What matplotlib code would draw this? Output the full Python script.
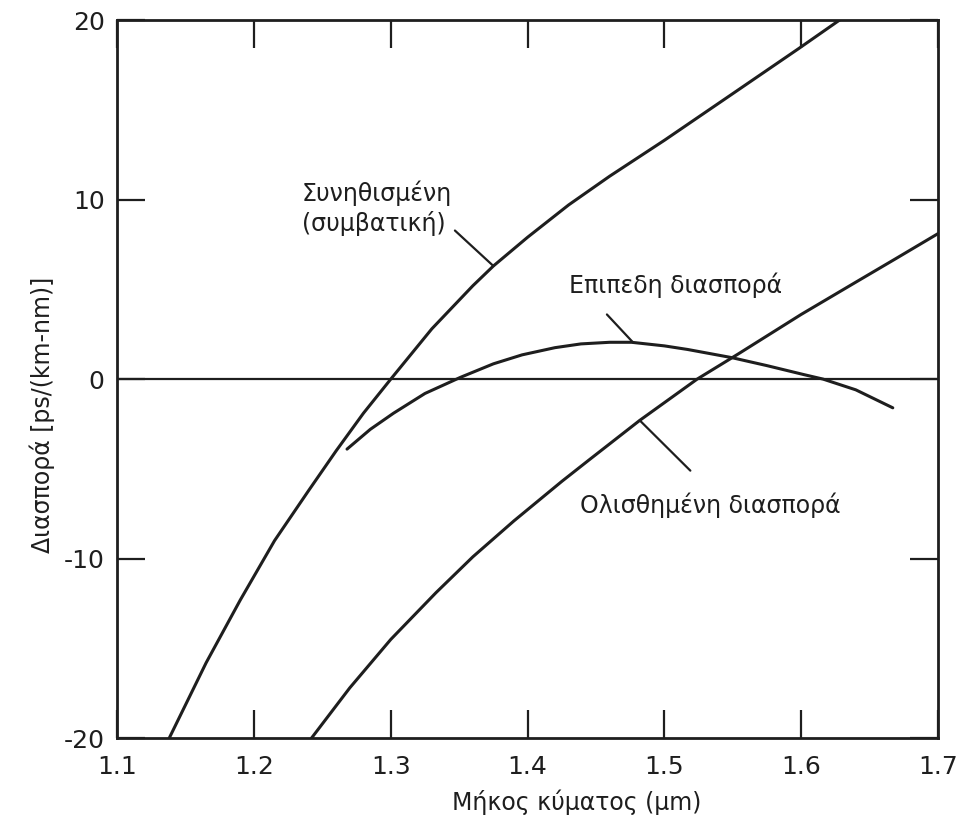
import matplotlib.pyplot as plt

# Συνηθισμένη (συμβατική) ίνα
conv_x = [1.138, 1.165, 1.190, 1.215, 1.240, 1.260, 1.280, 1.300, 1.330, 1.360,
          1.375, 1.400, 1.430, 1.460, 1.500, 1.550, 1.598, 1.630]
conv_y = [-20.0, -15.8, -12.3, -9.0, -6.2, -4.0, -1.9, 0.0, 2.8, 5.2,
          6.3, 7.9, 9.7, 11.3, 13.3, 15.9, 18.4, 20.1]

# Επίπεδη διασπορά
flat_x = [1.268, 1.285, 1.302, 1.325, 1.351, 1.375, 1.396, 1.420, 1.439, 1.460,
          1.476, 1.500, 1.517, 1.549, 1.575, 1.602, 1.616, 1.640, 1.667]
flat_y = [-3.9, -2.8, -1.9, -0.8, 0.1, 0.85, 1.35, 1.75, 1.96, 2.05,
          2.05, 1.85, 1.65, 1.2, 0.75, 0.25, 0.0, -0.6, -1.6]

# Ολισθημένη διασπορά
shift_x = [1.242, 1.270, 1.300, 1.333, 1.360, 1.390, 1.425, 1.445, 1.482, 1.524,
           1.554, 1.600, 1.640, 1.669, 1.700]
shift_y = [-20.0, -17.2, -14.5, -11.9, -9.9, -7.9, -5.7, -4.5, -2.3, 0.0,
           1.4, 3.6, 5.4, 6.7, 8.1]

x_ticks = [1.1, 1.2, 1.3, 1.4, 1.5, 1.6, 1.7]
y_ticks = [-20, -10, 0, 10, 20]

ink = '#1e1e1e'
plt.rcParams['font.family'] = ['DejaVu Sans']

fig = plt.figure(figsize=(9.77, 8.35), dpi=100)
ax = fig.add_axes([0.12, 0.116, 0.84, 0.86])

ax.axhline(0, color=ink, lw=1.6)
for xs, ys in [(conv_x, conv_y), (flat_x, flat_y), (shift_x, shift_y)]:
    ax.plot(xs, ys, color=ink, lw=2.2, solid_joinstyle='round', solid_capstyle='round')

ax.set_xlim(1.1, 1.7)
ax.set_ylim(-20, 20)
ax.set_xticks(x_ticks)
ax.set_xticklabels([f'{v:.1f}' for v in x_ticks])
ax.set_yticks(y_ticks)
ax.set_yticklabels([str(v) for v in y_ticks])

ax.tick_params(axis='x', direction='in', length=20, width=1.6, top=True,
               labelsize=18, pad=12, colors=ink)
ax.tick_params(axis='y', direction='in', length=20, width=1.6, right=True,
               labelsize=18, pad=9, colors=ink)
for s in ax.spines.values():
    s.set_linewidth(2)
    s.set_color(ink)

ax.set_xlabel('Μήκος κύματος (μm)', fontsize=17, color=ink, x=0.56, labelpad=8)
ax.set_ylabel('Διασπορά [ps/(km-nm)]', fontsize=17, color=ink, y=0.45, labelpad=6)

# ετικέτες με γραμμές οδηγούς
ax.annotate('Συνηθισμένη\n(συμβατική)', xy=(1.375, 6.3), xytext=(1.235, 9.5),
            fontsize=17, color=ink, va='center', ha='left', linespacing=1.25,
            arrowprops=dict(arrowstyle='-', color=ink, lw=1.6,
                            shrinkA=0, shrinkB=0, relpos=(1.0, 0.15)))
ax.annotate('', xy=(1.477, 2.05), xytext=(1.458, 3.6),
            arrowprops=dict(arrowstyle='-', color=ink, lw=1.6, shrinkA=0, shrinkB=0))
ax.text(1.430, 5.2, 'Επιπεδη διασπορά', fontsize=17, color=ink, va='center', ha='left')
ax.annotate('', xy=(1.482, -2.3), xytext=(1.519, -5.1),
            arrowprops=dict(arrowstyle='-', color=ink, lw=1.6, shrinkA=0, shrinkB=0))
ax.text(1.438, -7.0, 'Ολισθημένη διασπορά', fontsize=17, color=ink, va='center', ha='left')

fig.savefig('out.png', dpi=100, facecolor='white')
